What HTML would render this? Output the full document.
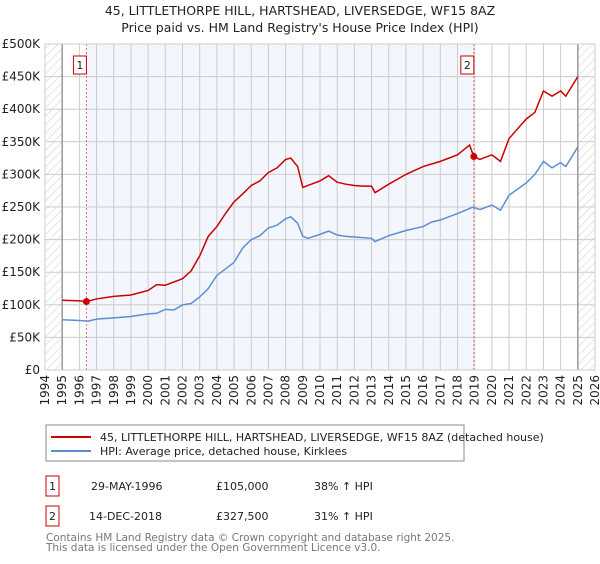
<!DOCTYPE html>
<html><head><meta charset="utf-8"><style>
body{margin:0;background:#fff;font-family:"DejaVu Sans","Liberation Sans",sans-serif;}
svg text{font-family:"DejaVu Sans","Liberation Sans",sans-serif;}
</style></head><body>
<svg id="c" width="600" height="560" xmlns="http://www.w3.org/2000/svg">
<defs><pattern id="h" width="6" height="6" patternUnits="userSpaceOnUse" patternTransform="rotate(45)"><line x1="0" y1="0" x2="0" y2="6" stroke="#ccc" stroke-width="1"/></pattern></defs>
<text x="300" y="15" text-anchor="middle" font-size="12.5" fill="#222">45, LITTLETHORPE HILL, HARTSHEAD, LIVERSEDGE, WF15 8AZ</text>
<text x="300" y="32" text-anchor="middle" font-size="12.5" fill="#222">Price paid vs. HM Land Registry's House Price Index (HPI)</text>
<g id="plot"></g>
<rect x="46" y="425" width="418" height="36" fill="#fff" stroke="#888"/>
<line x1="51" y1="437" x2="91" y2="437" stroke="#cc0000" stroke-width="2"/>
<text x="100" y="441" font-size="11" fill="#222">45, LITTLETHORPE HILL, HARTSHEAD, LIVERSEDGE, WF15 8AZ (detached house)</text>
<line x1="51" y1="451" x2="91" y2="451" stroke="#5b8fd4" stroke-width="2"/>
<text x="100" y="455" font-size="11" fill="#222">HPI: Average price, detached house, Kirklees</text>
<g font-size="11" fill="#222">
<rect x="46" y="476" width="13" height="20" fill="#fff" stroke="#cc0000"/>
<text x="52.5" y="490" text-anchor="middle">1</text>
<text x="91" y="490">29-MAY-1996</text>
<text x="216" y="490">£105,000</text>
<text x="314" y="490">38% ↑ HPI</text>
<rect x="46" y="506" width="13" height="20" fill="#fff" stroke="#cc0000"/>
<text x="52.5" y="520" text-anchor="middle">2</text>
<text x="89" y="520">14-DEC-2018</text>
<text x="216" y="520">£327,500</text>
<text x="314" y="520">31% ↑ HPI</text>
</g>
<text x="46" y="541" font-size="10.5" fill="#777">Contains HM Land Registry data © Crown copyright and database right 2025.</text>
<text x="46" y="551" font-size="10.5" fill="#777">This data is licensed under the Open Government Licence v3.0.</text>
</svg>
<script>
const hpiYears=[1995,1996,1996.5,1997,1998,1999,2000,2000.5,2001,2001.5,2002,2002.5,2003,2003.5,2004,2004.5,2005,2005.5,2006,2006.5,2007,2007.5,2008,2008.3,2008.7,2009,2009.3,2010,2010.5,2011,2011.5,2012,2013,2013.2,2014,2015,2016,2016.5,2017,2018,2018.9,2019.3,2020,2020.5,2021,2022,2022.5,2023,2023.5,2024,2024.3,2025];
const hpiValues=[77,76,75,78,80,82,86,87,93,92,100,102,112,125,145,155,165,187,200,206,218,222,232,235,225,205,202,208,213,207,205,204,202,197,206,214,220,227,230,240,250,246,253,245,268,287,300,320,310,318,312,342];
const priceYears=[1995,1996,1996.41,1997,1998,1999,2000,2000.5,2001,2002,2002.5,2003,2003.5,2004,2004.5,2005,2005.5,2006,2006.5,2007,2007.5,2008,2008.3,2008.7,2009,2009.3,2010,2010.5,2011,2011.5,2012,2012.5,2013,2013.2,2014,2015,2016,2017,2018,2018.7,2018.95,2019.3,2020,2020.5,2021,2022,2022.5,2023,2023.5,2024,2024.3,2025];
const priceValues=[107,106,105,109,113,115,122,131,130,140,152,175,205,220,240,258,270,283,290,303,310,323,325,312,280,283,290,298,288,285,283,282,282,272,285,300,312,320,330,345,327.5,323,330,320,355,385,395,428,420,428,420,450];
const saleYears=[1996.41,2018.95];
const saleValues=[105,327.5];
const saleLabels=["1","2"];
const yTicks=[0,50,100,150,200,250,300,350,400,450,500];
const yTickLabels=["£0","£50K","£100K","£150K","£200K","£250K","£300K","£350K","£400K","£450K","£500K"];
const xTicks=[1994,1995,1996,1997,1998,1999,2000,2001,2002,2003,2004,2005,2006,2007,2008,2009,2010,2011,2012,2013,2014,2015,2016,2017,2018,2019,2020,2021,2022,2023,2024,2025,2026];

const X0=45,X1=595,Y0=370,Y1=44;
const xs=y=>X0+(y-1994)/32*(X1-X0);
const ys=v=>Y0-v/500*(Y0-Y1);
const NS="http://www.w3.org/2000/svg";
const g=document.getElementById('plot');
function mk(t,a){const e=document.createElementNS(NS,t);for(const k in a)e.setAttribute(k,a[k]);g.appendChild(e);return e;}
let e;
e=mk('rect',{x:X0,y:Y1,width:X1-X0,height:Y0-Y1,fill:'#fff'});


e=mk('rect',{x:xs(saleYears[0]),y:Y1,width:xs(saleYears[1])-xs(saleYears[0]),height:Y0-Y1,fill:'#f3f6fd'});


e=mk('rect',{x:X0,y:Y1,width:xs(1995)-X0,height:Y0-Y1,fill:'url(#h)'});


e=mk('rect',{x:xs(2025),y:Y1,width:X1-xs(2025),height:Y0-Y1,fill:'url(#h)'});


yTicks.forEach((v,i)=>{
 e=mk('line',{x1:X0,x2:X1,y1:ys(v),y2:ys(v),stroke:'#ccc'});
 
 
 e=mk('text',{x:40,y:ys(v)+4,'text-anchor':'end','font-size':12,fill:'#222'});
 e.textContent=yTickLabels[i];
 
 
});
xTicks.forEach(y=>{
 e=mk('line',{x1:xs(y),x2:xs(y),y1:Y1,y2:Y0,stroke:'#ccc'});
 
 
 e=mk('text',{x:0,y:0,'text-anchor':'end','font-size':12,fill:'#222',transform:`translate(${xs(y)+4},375) rotate(-90)`});
 e.textContent=y;
 
 
});
[1995,2025].forEach(y=>{
 e=mk('line',{x1:xs(y),x2:xs(y),y1:Y1,y2:Y0,stroke:'#999','stroke-width':1.5});
 
 
});
e=mk('polyline',{points:hpiYears.map((y,i)=>xs(y)+','+ys(hpiValues[i])).join(' '),fill:'none',stroke:'#5b8fd4','stroke-width':1.5});


e=mk('polyline',{points:priceYears.map((y,i)=>xs(y)+','+ys(priceValues[i])).join(' '),fill:'none',stroke:'#cc0000','stroke-width':1.5});


saleYears.forEach((y,i)=>{
 e=mk('line',{x1:xs(y),x2:xs(y),y1:Y1,y2:Y0,stroke:'#e66','stroke-dasharray':'2,2'});
 
 
 e=mk('circle',{cx:xs(y),cy:ys(saleValues[i]),r:3.5,fill:'#cc0000'});
 
 
 e=mk('rect',{x:xs(y)-13,y:56,width:13,height:18,fill:'#fff',stroke:'#cc0000'});
 
 
 e=mk('text',{x:xs(y)-6.5,y:69,'text-anchor':'middle','font-size':11,fill:'#222'});
 e.textContent=saleLabels[i];
 
 
});
e=mk('rect',{x:X0,y:Y1,width:X1-X0,height:Y0-Y1,fill:'none',stroke:'#ccc'});


</script>
</body></html>
